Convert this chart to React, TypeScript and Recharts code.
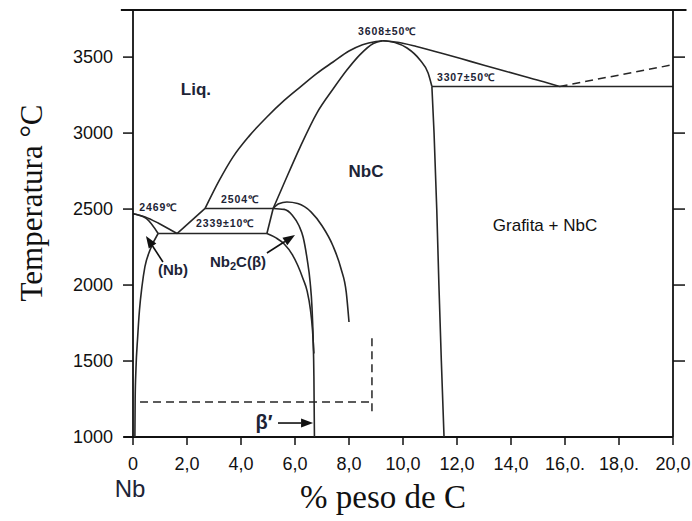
import React from 'react';
import {
  ComposedChart, Line, XAxis, YAxis, ReferenceLine, ReferenceDot,
} from 'recharts';

// Diagrama de fases Nb–C: temperatura (°C) contra % peso de C

const C_TICKS = [0, 2, 4, 6, 8, 10, 12, 14, 16, 18, 20];
const C_TICK_LABELS = ['0', '2,0', '4,0', '6,0', '8,0', '10,0', '12,0', '14,0', '16,0.', '18,0.', '20,0'];
const TEMP_TICKS = [1000, 1500, 2000, 2500, 3000, 3500];
const TEMP_TICKS_RIGHT = [1500, 2000, 2500, 3000, 3500];
const TEMP_DOMAIN = [1000, 3810];

// lado rico em Nb
const liquidusNb = [
  { x: 0, y: 2469 }, { x: 0.45, y: 2448 }, { x: 0.93, y: 2408 }, { x: 1.3, y: 2372 }, { x: 1.63, y: 2339 },
];
const solidusNb = [{ x: 0, y: 2469 }, { x: 0.5, y: 2437 }, { x: 0.93, y: 2339 }];
const solvusNb = [
  { x: 0.07, y: 1000 }, { x: 0.08, y: 1250 }, { x: 0.11, y: 1450 }, { x: 0.17, y: 1650 },
  { x: 0.24, y: 1836 }, { x: 0.33, y: 1987 }, { x: 0.44, y: 2119 }, { x: 0.63, y: 2230 }, { x: 0.93, y: 2339 },
];
const eutectic2339 = [{ x: 0.93, y: 2339 }, { x: 4.96, y: 2339 }];
const liquidusLow = [{ x: 1.63, y: 2339 }, { x: 2.67, y: 2504 }];
const peritectic2504 = [{ x: 2.67, y: 2504 }, { x: 5.19, y: 2504 }];
const nb2cLiquid = [{ x: 4.96, y: 2339 }, { x: 5.19, y: 2504 }];

// liquidus e solidus do NbC
const liquidusNbC = [
  { x: 2.67, y: 2504 }, { x: 3.2, y: 2690 }, { x: 3.7, y: 2842 }, { x: 4.3, y: 2980 }, { x: 4.96, y: 3106 },
  { x: 5.6, y: 3215 }, { x: 6.19, y: 3303 }, { x: 6.8, y: 3392 }, { x: 7.41, y: 3468 }, { x: 8.0, y: 3540 },
  { x: 8.5, y: 3582 }, { x: 9.0, y: 3603 }, { x: 9.25, y: 3608 },
];
const solidusNbCLeft = [
  { x: 5.19, y: 2504 }, { x: 5.56, y: 2655 }, { x: 6.19, y: 2908 }, { x: 6.81, y: 3132 }, { x: 7.41, y: 3290 },
  { x: 7.9, y: 3410 }, { x: 8.4, y: 3515 }, { x: 8.9, y: 3590 }, { x: 9.25, y: 3608 },
];
const solidusNbCRight = [
  { x: 9.25, y: 3608 }, { x: 9.7, y: 3596 }, { x: 10.15, y: 3560 }, { x: 10.63, y: 3481 },
  { x: 10.93, y: 3395 }, { x: 11.07, y: 3307 },
];
const nbcCarbonSide = [
  { x: 11.07, y: 3307 }, { x: 11.15, y: 3000 }, { x: 11.25, y: 2500 }, { x: 11.33, y: 2000 },
  { x: 11.42, y: 1500 }, { x: 11.52, y: 1000 },
];
const liquidusC = [
  { x: 9.25, y: 3608 }, { x: 9.8, y: 3598 }, { x: 10.5, y: 3570 }, { x: 11.5, y: 3522 }, { x: 12.5, y: 3472 },
  { x: 13.5, y: 3422 }, { x: 14.5, y: 3372 }, { x: 15.3, y: 3333 }, { x: 15.8, y: 3307 },
];
const eutectic3307 = [{ x: 11.07, y: 3307 }, { x: 20, y: 3307 }];
const liquidusGraphite = [{ x: 15.8, y: 3307 }, { x: 20, y: 3450 }];

// domos Nb2C / NbC
const nbcSolvusOuter = [
  { x: 5.19, y: 2504 }, { x: 5.4, y: 2535 }, { x: 5.7, y: 2546 }, { x: 6.1, y: 2536 }, { x: 6.6, y: 2480 },
  { x: 7.0, y: 2390 }, { x: 7.4, y: 2260 }, { x: 7.7, y: 2110 }, { x: 7.9, y: 1950 }, { x: 8.0, y: 1757 },
];
const nbcSolvusInner = [
  { x: 5.19, y: 2504 }, { x: 5.6, y: 2498 }, { x: 5.9, y: 2460 }, { x: 6.15, y: 2390 }, { x: 6.3, y: 2316 },
  { x: 6.45, y: 2170 }, { x: 6.56, y: 2020 }, { x: 6.63, y: 1850 }, { x: 6.67, y: 1660 }, { x: 6.7, y: 1400 },
  { x: 6.72, y: 1000 },
];
const nb2cSolvus = [
  { x: 4.96, y: 2339 }, { x: 5.3, y: 2310 }, { x: 5.6, y: 2270 }, { x: 5.9, y: 2200 }, { x: 6.1, y: 2130 },
  { x: 6.3, y: 2040 }, { x: 6.45, y: 1960 }, { x: 6.57, y: 1840 }, { x: 6.65, y: 1700 }, { x: 6.7, y: 1550 },
];
const betaPrimeLine = [{ x: 0.26, y: 1230 }, { x: 8.85, y: 1230 }];
const betaPrimeEdge = [{ x: 8.85, y: 1650 }, { x: 8.85, y: 1160 }];

const SOLID_CURVES = [
  { id: 'liqNb', data: liquidusNb, type: 'monotone' },
  { id: 'solNb', data: solidusNb, type: 'monotone' },
  { id: 'solvNb', data: solvusNb, type: 'monotone' },
  { id: 'eut2339', data: eutectic2339, type: 'linear' },
  { id: 'liqLow', data: liquidusLow, type: 'linear' },
  { id: 'per2504', data: peritectic2504, type: 'linear' },
  { id: 'nb2cLiq', data: nb2cLiquid, type: 'linear' },
  { id: 'liqNbC', data: liquidusNbC, type: 'monotone' },
  { id: 'solNbCL', data: solidusNbCLeft, type: 'monotone' },
  { id: 'solNbCR', data: solidusNbCRight, type: 'monotone' },
  { id: 'nbcC', data: nbcCarbonSide, type: 'monotone' },
  { id: 'liqC', data: liquidusC, type: 'monotone' },
  { id: 'eut3307', data: eutectic3307, type: 'linear' },
  { id: 'solvOut', data: nbcSolvusOuter, type: 'monotone' },
  { id: 'solvIn', data: nbcSolvusInner, type: 'monotone' },
  { id: 'nb2cSolv', data: nb2cSolvus, type: 'monotone' },
];
const DASHED_CURVES = [
  { id: 'liqGr', data: liquidusGraphite },
  { id: 'beta', data: betaPrimeLine },
  { id: 'betaEdge', data: betaPrimeEdge },
];

const REGION_LABELS = [
  { text: 'Liq.', x: 2.33, y: 3290, size: 17, weight: 700 },
  { text: 'NbC', x: 8.63, y: 2750, size: 17, weight: 700 },
  { text: 'Grafita + NbC', x: 15.26, y: 2395, size: 17, weight: 400 },
  { text: '(Nb)', x: 1.48, y: 2099, size: 15, weight: 700 },
  { text: 'β′', x: 4.85, y: 1099, size: 20, weight: 700 },
];
const TEMP_LABELS = [
  { text: '2469℃', x: 0.93, y: 2513 },
  { text: '2504℃', x: 3.96, y: 2566 },
  { text: '2339±10℃', x: 3.41, y: 2408 },
  { text: '3608±50℃', x: 9.41, y: 3671 },
  { text: '3307±50℃', x: 12.33, y: 3369 },
];
const ARROWS = [
  { from: { x: 1.11, y: 2152 }, to: { x: 0.48, y: 2323 } },
  { from: { x: 4.96, y: 2211 }, to: { x: 6.0, y: 2329 } },
  { from: { x: 5.37, y: 1092 }, to: { x: 6.67, y: 1092 } },
];

const SANS = '"Liberation Sans", Arial, sans-serif';
const SERIF = '"Liberation Serif", "Times New Roman", serif';
const INK = '#1d2436';
const LINE = '#262626';

function Arrow(props: any) {
  const { x1, y1, x2, y2 } = props;
  const a = Math.atan2(y2 - y1, x2 - x1);
  const len = 12;
  const half = 4.5;
  const bx = x2 - len * Math.cos(a);
  const by = y2 - len * Math.sin(a);
  const px = -Math.sin(a) * half;
  const py = Math.cos(a) * half;
  return (
    <g>
      <line x1={x1} y1={y1} x2={bx} y2={by} stroke="#111" strokeWidth={1.6} />
      <polygon points={`${x2},${y2} ${bx + px},${by + py} ${bx - px},${by - py}`} fill="#111" />
    </g>
  );
}

function renderLabel(text: string, size: number, weight: number, color: string, spacing = 0) {
  return (p: any) => (
    <text
      x={p.cx}
      y={p.cy}
      dy="0.35em"
      textAnchor="middle"
      fontFamily={SANS}
      fontSize={size}
      fontWeight={weight}
      letterSpacing={spacing}
      fill={color}
    >
      {text}
    </text>
  );
}

function renderNb2C(p: any) {
  return (
    <text x={p.cx} y={p.cy} dy="0.35em" textAnchor="middle" fontFamily={SANS} fontSize={15} fontWeight={700} fill={INK}>
      Nb<tspan fontSize={11} dy={3}>2</tspan><tspan dy={-3}>C(β)</tspan>
    </text>
  );
}

export default function App() {
  return (
    <div style={{ position: 'absolute', left: 0, top: 0, width: 692, height: 521, background: '#fff', overflow: 'hidden' }}>
      <ComposedChart width={692} height={521} margin={{ top: 10, right: 0, bottom: 34, left: 0 }}>
        <XAxis
          type="number"
          dataKey="x"
          domain={[0, 20]}
          ticks={C_TICKS}
          tickFormatter={(v: number) => C_TICK_LABELS[C_TICKS.indexOf(v)]}
          height={50}
          axisLine={false}
          tickSize={8}
          tickMargin={12}
          tickLine={{ stroke: '#111', strokeWidth: 1.5 }}
          tick={{ fill: '#111', fontSize: 18, fontFamily: SANS }}
          allowDataOverflow
        />
        <YAxis
          type="number"
          dataKey="y"
          domain={TEMP_DOMAIN}
          ticks={TEMP_TICKS}
          width={133}
          tickSize={10}
          tickMargin={10}
          axisLine={{ stroke: '#111', strokeWidth: 1.8 }}
          tickLine={{ stroke: '#111', strokeWidth: 1.5 }}
          tick={{ fill: '#111', fontSize: 18, fontFamily: SANS }}
          allowDataOverflow
        />
        <YAxis
          yAxisId="r"
          orientation="right"
          type="number"
          domain={TEMP_DOMAIN}
          ticks={TEMP_TICKS_RIGHT}
          width={19}
          tickSize={12}
          axisLine={{ stroke: '#111', strokeWidth: 1.8 }}
          tickLine={{ stroke: '#111', strokeWidth: 1.5 }}
          tick={() => <g />}
          allowDataOverflow
        />

        {/* moldura: topo e base prolongados */}
        <ReferenceLine
          segment={[{ x: -0.45, y: 3810 }, { x: 20.5, y: 3810 }]}
          stroke="#111"
          strokeWidth={1.8}
          ifOverflow="visible"
        />
        <ReferenceLine
          segment={[{ x: -0.35, y: 1000 }, { x: 20, y: 1000 }]}
          stroke="#111"
          strokeWidth={1.8}
          ifOverflow="visible"
        />

        {SOLID_CURVES.map((c) => (
          <Line
            key={c.id}
            data={c.data}
            dataKey="y"
            type={c.type as any}
            stroke={LINE}
            strokeWidth={1.6}
            dot={false}
            activeDot={false}
            isAnimationActive={false}
          />
        ))}
        {DASHED_CURVES.map((c) => (
          <Line
            key={c.id}
            data={c.data}
            dataKey="y"
            type="linear"
            stroke={LINE}
            strokeWidth={1.5}
            strokeDasharray="8 5"
            dot={false}
            activeDot={false}
            isAnimationActive={false}
          />
        ))}

        {ARROWS.map((a, i) => (
          <ReferenceLine key={`arr${i}`} segment={[a.from, a.to]} shape={Arrow} ifOverflow="visible" />
        ))}

        {REGION_LABELS.map((l) => (
          <ReferenceDot
            key={l.text}
            x={l.x}
            y={l.y}
            r={0}
            shape={renderLabel(l.text, l.size, l.weight, l.weight === 400 ? '#111' : INK)}
          />
        ))}
        <ReferenceDot x={3.89} y={2152} r={0} shape={renderNb2C} />
        {TEMP_LABELS.map((l) => (
          <ReferenceDot
            key={l.text}
            x={l.x}
            y={l.y}
            r={0}
            shape={renderLabel(l.text, 10.5, 700, INK, 0.9)}
          />
        ))}
      </ComposedChart>

      <svg width={692} height={521} style={{ position: 'absolute', left: 0, top: 0, pointerEvents: 'none' }}>
        <text x={42} y={203} transform="rotate(-90 42 203)" textAnchor="middle" fontFamily={SERIF} fontSize={31} fill="#111">
          Temperatura °C
        </text>
        <text x={383} y={508} textAnchor="middle" fontFamily={SERIF} fontSize={33} fill="#111">
          % peso de C
        </text>
        <text x={130} y={497} textAnchor="middle" fontFamily={SANS} fontSize={24} fill={INK}>
          Nb
        </text>
      </svg>
    </div>
  );
}
